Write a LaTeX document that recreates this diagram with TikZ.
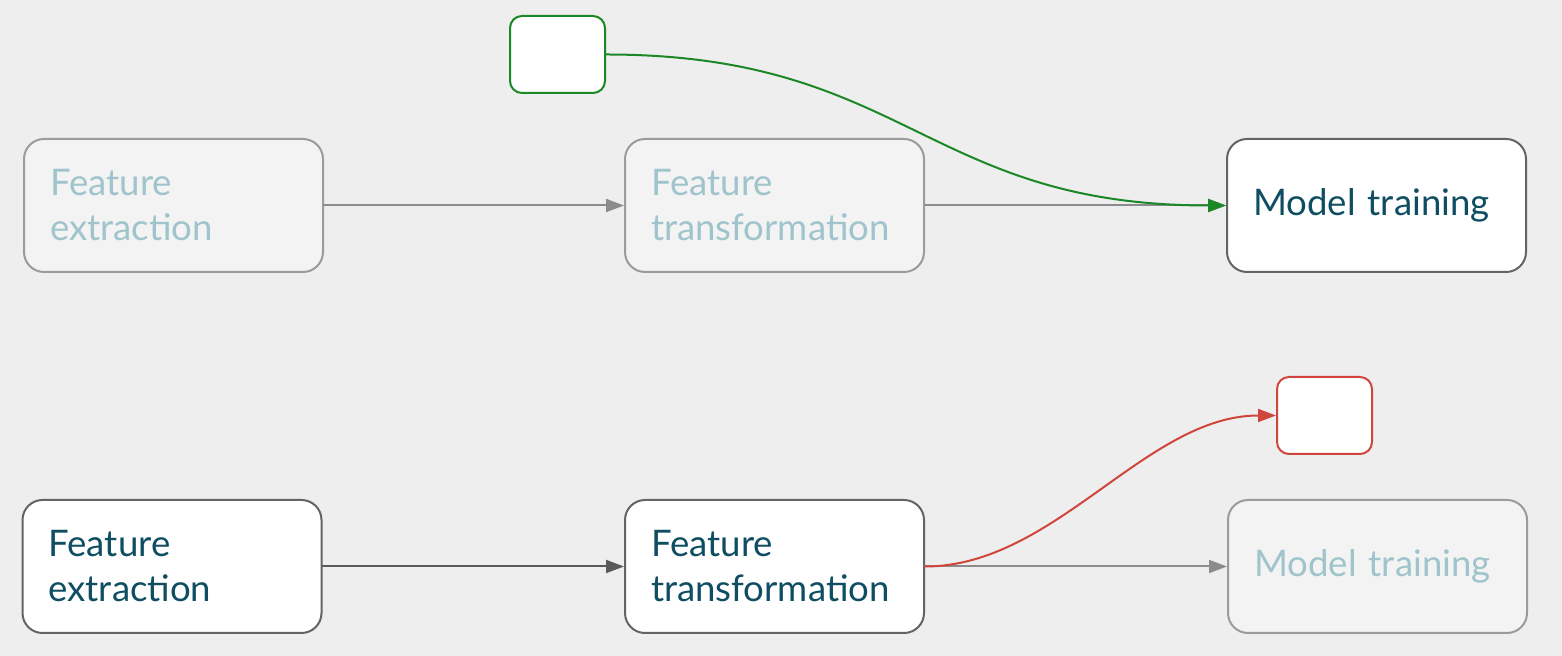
\documentclass[tikz,border=0pt]{standalone}
\usepackage{fontspec}
\setmainfont{Lato}
\usetikzlibrary{arrows.meta}
\definecolor{bgcol}{RGB}{238,238,238}
\definecolor{fadedfill}{RGB}{243,243,243}
\definecolor{fadedline}{RGB}{155,155,155}
\definecolor{fadedtext}{RGB}{160,196,204}
\definecolor{activeline}{RGB}{100,100,100}
\definecolor{activetext}{RGB}{15,78,98}
\definecolor{linkgray}{RGB}{140,140,140}
\definecolor{linkdark}{RGB}{90,90,90}
\definecolor{okgreen}{RGB}{28,135,38}
\definecolor{badred}{RGB}{208,70,60}
\begin{document}
\begin{tikzpicture}[x=0.5pt,y=-0.5pt,line cap=round,line join=round,>={Triangle[length=9pt,width=6.5pt]},
    stage/.style={draw=activeline,fill=white,line width=1pt,rounded corners=10pt,text=activetext,
      align=left,text width=123.5pt,inner xsep=13pt,minimum height=66.5pt,font=\fontsize{18.3}{22.5}\selectfont},
    faded/.style={stage,draw=fadedline,fill=fadedfill,text=fadedtext},
    tag/.style={line width=1pt,fill=white,rounded corners=6pt,minimum width=47.5pt,minimum height=38.5pt,inner sep=0pt},
    link/.style={->,line width=1pt,color=linkdark},
    dimlink/.style={->,line width=1pt,color=linkgray}]
  \fill[bgcol] (0,0) rectangle (1562,656);
  \useasboundingbox (0,0) rectangle (1562,656);
  % upper pipeline
  \node[faded] (fe1) at (173.5,205.5) {Feature\\extraction};
  \node[faded] (ft1) at (774.5,205.5) {Feature\\transformation};
  \node[stage] (mt1) at (1376.5,205.5) {Model training};
  \node[tag,draw=okgreen] (good) at (557.5,54.5) {};
  \draw[dimlink] (fe1) -- (ft1);
  \draw[dimlink] (ft1) -- (mt1);
  \draw[->,line width=1pt,color=okgreen] (good.east) .. controls +(300,0) and +(-300,0) .. (mt1.west);
  % lower pipeline
  \node[stage] (fe2) at (172,566.5) {Feature\\extraction};
  \node[stage] (ft2) at (774.5,566.5) {Feature\\transformation};
  \node[faded] (mt2) at (1377.5,566.5) {Model training};
  \node[tag,draw=badred] (bad) at (1324.5,415.5) {};
  \draw[link] (fe2) -- (ft2);
  \draw[dimlink] (ft2) -- (mt2);
  \draw[->,line width=1pt,color=badred] (ft2.east) .. controls +(130,0) and +(-130,0) .. (bad.west);
\end{tikzpicture}
\end{document}
